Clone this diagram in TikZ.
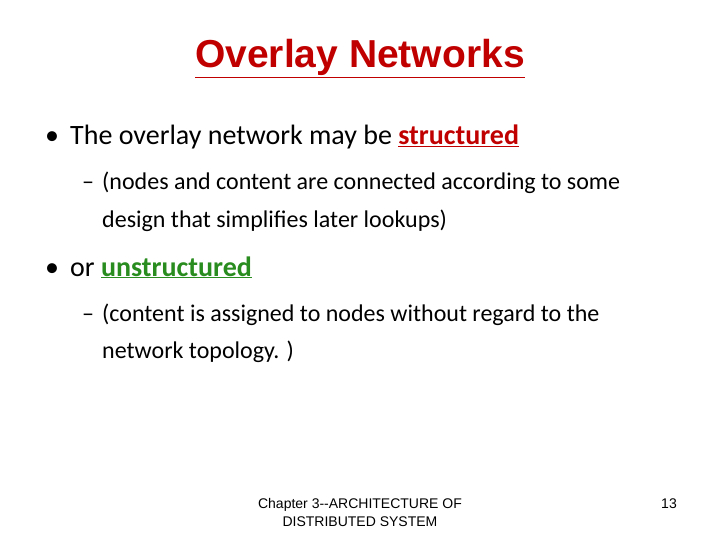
\documentclass[tikz,border=0pt]{standalone}
\usepackage{fontspec}
\setmainfont{Carlito}
\newfontfamily\arialf{Liberation Sans}
\definecolor{tred}{RGB}{192,0,0}
\definecolor{tgreen}{RGB}{40,140,30}
\begin{document}
\begin{tikzpicture}[x=1pt,y=1pt,
  bul/.style={anchor=base west,inner sep=0pt,font=\fontsize{28}{32}\selectfont},
  sub/.style={anchor=base west,inner sep=0pt,font=\fontsize{24}{28}\selectfont},
  foot/.style={inner sep=0pt,font=\arialf\fontsize{14}{18}\selectfont,align=center}]
\useasboundingbox (0,0) rectangle (720,-540);
\node[anchor=base,inner sep=0pt,text=tred,font=\arialf\bfseries\fontsize{39}{44}\selectfont] (title) at (360,-68) {\underline{Overlay Networks}};
\node[bul] (b1d) at (45,-145) {\textbullet};
\node[bul] (b1) at (70,-145) {The overlay network may be \textcolor{tred}{\underline{\textbf{structured}}}};
\node[sub] (s1d) at (82,-190) {--};
\node[sub] (s1) at (102,-190) {(nodes and content are connected according to some};
\node[sub] (s1b) at (102,-227) {design that simplifies later lookups)};
\node[bul] (b2d) at (45,-276) {\textbullet};
\node[bul] (b2) at (70,-276) {or \textcolor{tgreen}{\underline{\textbf{unstructured}}}};
\node[sub] (s2d) at (82,-321) {--};
\node[sub] (s2) at (102,-321) {(content is assigned to nodes without regard to the};
\node[sub] (s2b) at (102,-358) {network topology. )};
\node[foot] (f) at (360,-512) {Chapter 3--ARCHITECTURE OF\\DISTRIBUTED SYSTEM};
\node[foot,anchor=base] (pg) at (669,-508) {13};
\end{tikzpicture}
\end{document}
